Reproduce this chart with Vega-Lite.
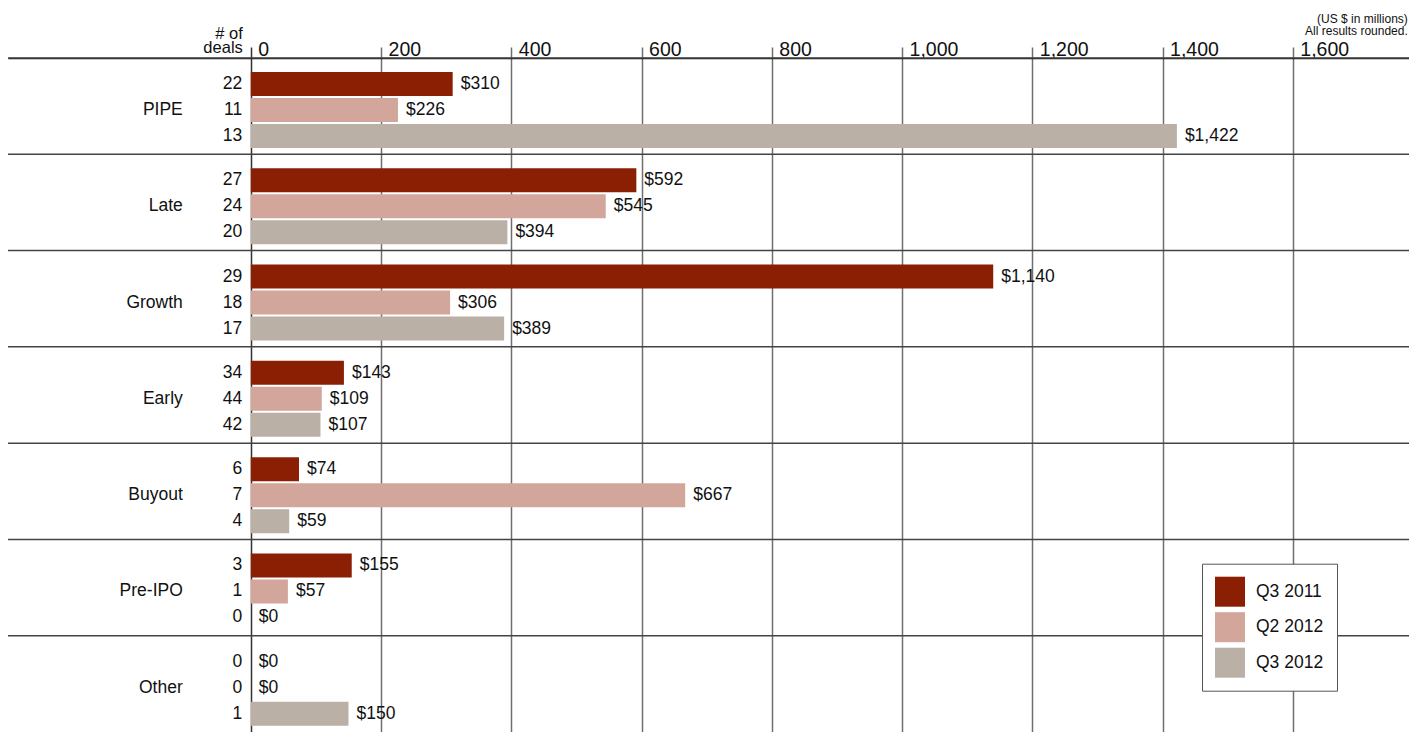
{
  "$schema": "https://vega.github.io/schema/vega-lite/v6.json",
  "width": 1401,
  "height": 674,
  "autosize": {"type": "none"},
  "padding": {"left": 8, "top": 58, "right": 0, "bottom": 0},
  "background": "#ffffff",
  "config": {
    "view": {"stroke": null},
    "font": "Liberation Sans",
    "text": {"font": "Liberation Sans", "fontSize": 17.5, "color": "#111111"}
  },
  "data": {
    "values": [
      {"category": "PIPE", "series": "Q3 2011", "value": 310, "deals": 22},
      {"category": "PIPE", "series": "Q2 2012", "value": 226, "deals": 11},
      {"category": "PIPE", "series": "Q3 2012", "value": 1422, "deals": 13},
      {"category": "Late", "series": "Q3 2011", "value": 592, "deals": 27},
      {"category": "Late", "series": "Q2 2012", "value": 545, "deals": 24},
      {"category": "Late", "series": "Q3 2012", "value": 394, "deals": 20},
      {"category": "Growth", "series": "Q3 2011", "value": 1140, "deals": 29},
      {"category": "Growth", "series": "Q2 2012", "value": 306, "deals": 18},
      {"category": "Growth", "series": "Q3 2012", "value": 389, "deals": 17},
      {"category": "Early", "series": "Q3 2011", "value": 143, "deals": 34},
      {"category": "Early", "series": "Q2 2012", "value": 109, "deals": 44},
      {"category": "Early", "series": "Q3 2012", "value": 107, "deals": 42},
      {"category": "Buyout", "series": "Q3 2011", "value": 74, "deals": 6},
      {"category": "Buyout", "series": "Q2 2012", "value": 667, "deals": 7},
      {"category": "Buyout", "series": "Q3 2012", "value": 59, "deals": 4},
      {"category": "Pre-IPO", "series": "Q3 2011", "value": 155, "deals": 3},
      {"category": "Pre-IPO", "series": "Q2 2012", "value": 57, "deals": 1},
      {"category": "Pre-IPO", "series": "Q3 2012", "value": 0, "deals": 0},
      {"category": "Other", "series": "Q3 2011", "value": 0, "deals": 0},
      {"category": "Other", "series": "Q2 2012", "value": 0, "deals": 0},
      {"category": "Other", "series": "Q3 2012", "value": 150, "deals": 1}
    ]
  },
  "layer": [
    {
      "mark": {"type": "bar", "cornerRadius": 0},
      "encoding": {
        "y": {
          "field": "category", "type": "nominal",
          "scale": {"type": "band", "domain": ["PIPE", "Late", "Growth", "Early", "Buyout", "Pre-IPO", "Other"], "paddingInner": 0, "paddingOuter": 0},
          "axis": {"title": ["# of", "deals"], "labels": false, "ticks": false, "domain": false, "grid": false, "titleX": 234.3, "titleY": -19.7, "titleAlign": "right", "titleBaseline": "alphabetic", "titleAngle": 0, "titleFont": "Liberation Sans", "titleFontSize": 16.5, "titleFontWeight": "normal", "titleLineHeight": 14.4, "titleColor": "#111111"}
        },
        "yOffset": {
          "field": "series", "type": "nominal",
          "scale": {"type": "band", "domain": ["Q3 2011", "Q2 2012", "Q3 2012"], "range": [14, 90], "paddingInner": 0.077, "paddingOuter": 0}
        },
        "x": {
          "field": "value", "type": "quantitative",
          "scale": {"domain": [-372.8, 1778.4], "nice": false, "zero": false},
          "axis": {
            "orient": "top",
            "values": [0, 200, 400, 600, 800, 1000, 1200, 1400, 1600],
            "format": ",.0f",
            "labelAlign": "left",
            "labelBaseline": "alphabetic",
            "labelOffset": 7,
            "labelPadding": -8,
            "labelFont": "Liberation Sans",
            "labelFontSize": 19.5,
            "labelColor": "#111111",
            "labelFlush": false,
            "labelOverlap": false,
            "tickSize": 11,
            "tickColor": {"condition": {"test": "datum.value === 0", "value": "#333333"}, "value": "#6f6f6f"},
            "tickWidth": 1.5,
            "domainColor": "#111111",
            "domainWidth": 1.5,
            "grid": true,
            "gridColor": {"condition": {"test": "datum.value === 0", "value": "#333333"}, "value": "#6f6f6f"},
            "gridWidth": 1.5,
            "gridOpacity": 1,
            "title": ["(US $ in millions)", "All results rounded."],
            "titleX": 1399.3,
            "titleY": -36,
            "titleAlign": "right",
            "titleBaseline": "alphabetic",
            "titleAngle": 0,
            "titleFont": "Liberation Sans",
            "titleFontSize": 12,
            "titleFontWeight": "normal",
            "titleLineHeight": 12.3,
            "titleColor": "#111111"
          }
        },
        "x2": {"datum": 0},
        "color": {
          "field": "series", "type": "nominal",
          "scale": {"domain": ["Q3 2011", "Q2 2012", "Q3 2012"], "range": ["#8a1f04", "#d2a69b", "#bab0a6"]},
          "legend": {
            "orient": "none", "legendX": 1194, "legendY": 505.7, "title": null,
            "symbolType": "square", "symbolSize": 900, "symbolStrokeWidth": 0, "symbolOpacity": 1,
            "labelFont": "Liberation Sans", "labelFontSize": 17.5, "labelColor": "#111111", "labelOffset": 11,
            "rowPadding": 5.5, "padding": 13, "strokeColor": "#555555", "fillColor": "#ffffff", "cornerRadius": 0
          }
        }
      }
    },
    {
      "transform": [{"filter": "datum.series === 'Q3 2011'"}],
      "mark": {"type": "rule", "color": "#444444", "strokeWidth": 1.5},
      "encoding": {
        "y": {
          "field": "category", "type": "nominal", "bandPosition": 0,
          "scale": {"type": "band", "domain": ["PIPE", "Late", "Growth", "Early", "Buyout", "Pre-IPO", "Other"], "paddingInner": 0, "paddingOuter": 0},
          "axis": {"title": ["# of", "deals"], "labels": false, "ticks": false, "domain": false, "grid": false, "titleX": 234.3, "titleY": -19.7, "titleAlign": "right", "titleBaseline": "alphabetic", "titleAngle": 0, "titleFont": "Liberation Sans", "titleFontSize": 16.5, "titleFontWeight": "normal", "titleLineHeight": 14.4, "titleColor": "#111111"}
        }
      }
    },
    {
      "mark": {"type": "text", "align": "right", "baseline": "middle", "dx": -8.5},
      "encoding": {
        "y": {"field": "category", "type": "nominal"},
        "yOffset": {"field": "series", "type": "nominal"},
        "x": {"datum": 0, "type": "quantitative"},
        "text": {"field": "deals", "type": "quantitative"}
      }
    },
    {
      "mark": {"type": "text", "align": "left", "baseline": "middle", "dx": 8},
      "encoding": {
        "y": {"field": "category", "type": "nominal"},
        "yOffset": {"field": "series", "type": "nominal"},
        "x": {"field": "value", "type": "quantitative"},
        "text": {"field": "value", "type": "quantitative", "format": "$,.0f"}
      }
    },
    {
      "transform": [{"filter": "datum.series === 'Q2 2012'"}],
      "mark": {"type": "text", "align": "right", "baseline": "middle", "dx": -68},
      "encoding": {
        "y": {"field": "category", "type": "nominal"},
        "yOffset": {"field": "series", "type": "nominal"},
        "x": {"datum": 0, "type": "quantitative"},
        "text": {"field": "category", "type": "nominal"}
      }
    }
  ]
}
